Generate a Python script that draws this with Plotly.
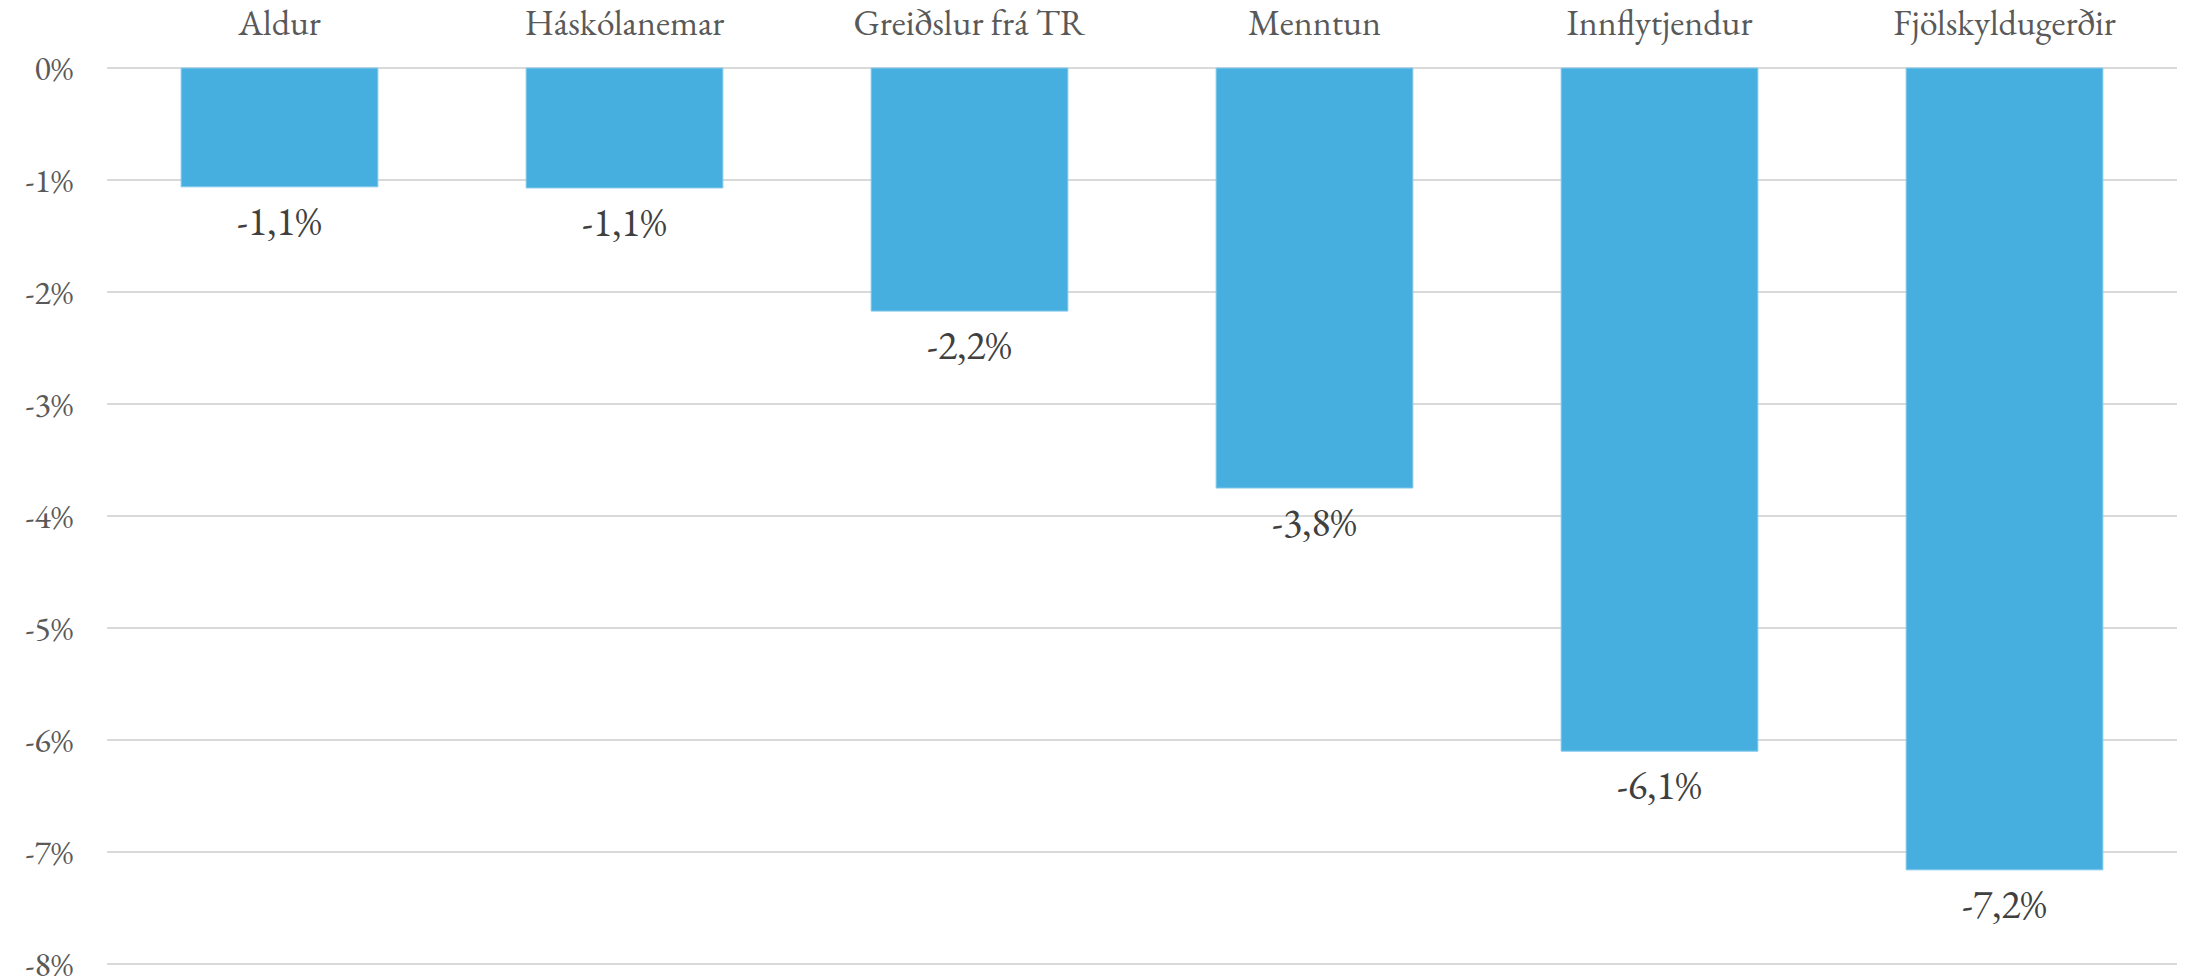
import plotly.graph_objects as go

categories = ["Aldur", "Háskólanemar", "Greiðslur frá TR", "Menntun", "Innflytjendur", "Fjölskyldugerðir"]
values = [-1.06, -1.07, -2.17, -3.75, -6.10, -7.16]
value_labels = ["-1,1%", "-1,1%", "-2,2%", "-3,8%", "-6,1%", "-7,2%"]
tick_vals = [0, -1, -2, -3, -4, -5, -6, -7, -8]
tick_text = ["0%", "-1%", "-2%", "-3%", "-4%", "-5%", "-6%", "-7%", "-8%"]

FONT = "Garamond, 'EB Garamond', 'Liberation Serif', 'DejaVu Serif', serif"

fig = go.Figure()
fig.add_trace(go.Bar(
    x=categories, y=values,
    marker=dict(color="#47AFDF", line=dict(color="#7CC6EA", width=1)),
    width=0.57,
    hoverinfo="skip",
))

for c, v, t in zip(categories, values, value_labels):
    fig.add_annotation(x=c, y=v, text=t, showarrow=False, yanchor="top",
                       yshift=-6, font=dict(family=FONT, size=40, color="#404040"))

fig.update_layout(
    width=2190, height=976,
    margin=dict(l=107, r=13, t=67, b=11),
    plot_bgcolor="white", paper_bgcolor="white",
    showlegend=False,
    font=dict(family=FONT, size=34, color="#595959"),
    xaxis=dict(side="top", showgrid=False, showline=False, zeroline=False,
               ticks="", ticklabelstandoff=24, automargin=False,
               tickfont=dict(family=FONT, size=36, color="#595959")),
    yaxis=dict(range=[-8.01, 0.01], tickvals=tick_vals, ticktext=tick_text,
               showgrid=True, gridcolor="#D9D9D9", gridwidth=2, automargin=False,
               zeroline=False, showline=False, ticks="", ticklabelstandoff=33,
               ticklabeloverflow="allow",
               tickfont=dict(family=FONT, size=34, color="#595959")),
)

fig.write_html("out.html", config={"displayModeBar": False},
               post_script="document.body.style.margin='0';document.body.style.overflow='hidden';")
